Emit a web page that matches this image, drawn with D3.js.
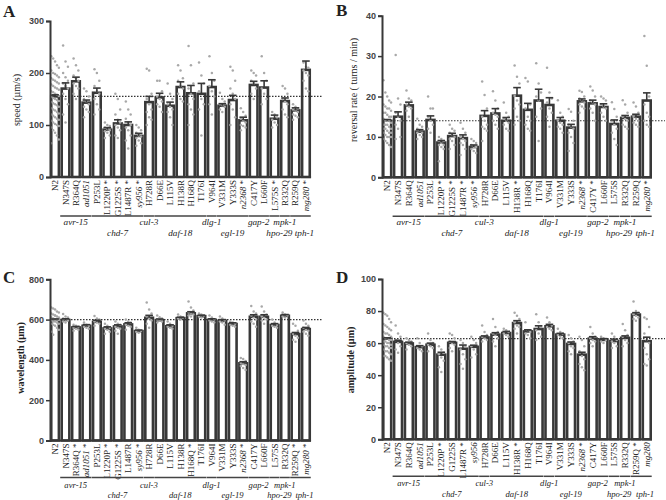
<!DOCTYPE html>
<html><head><meta charset="utf-8">
<script src="https://cdn.jsdelivr.net/npm/d3@7"></script>
<style>body{margin:0;background:#fff}</style>
</head><body><svg id="chart" width="666" height="500"></svg>
<script>
const categories = ["N2","N347S","R364Q","ad1051","P253L","L1220P","G1225S","L1487R","sy956","H728R","D66E","L115V","H138R","H168Q","T176I","V964I","V331M","Y333S","n2368","C417Y","L660F","L575S","R332Q","R259Q","mg280"];
const italicCategories = ["ad1051","sy956","n2368","mg280"];
const genes = ["avr-15","chd-7","cul-3","daf-18","dlg-1","egl-19","gap-2","hpo-29","mpk-1","tph-1"];
const geneFirst = ["N347S","P253L","H728R","D66E","V964I","V331M","C417Y","L575S","R332Q","R259Q"];
const geneLast  = ["ad1051","sy956","H728R","T176I","V964I","n2368","L660F","L575S","R332Q","mg280"];

// Panel A: speed
const speedTicks = [0,100,200,300];
const speedMean = [155,170,184,143,162,91,103,100,79,144,153,137,173,161,160,173,137,148,109,177,172,112,146,128,206];
const speedSem  = [3,11,8,5,9,4,7,6,5,11,8,7,10,15,20,14,4,9,6,7,13,7,6,5,17];
const speedStars = ["L1220P","G1225S","L1487R","sy956","n2368","L575S","mg280"];
const speedPoints = [
 [232,228,222,215,210,205,200,198,195,192,190,187,185,182,180,178,175,172,170,168,165,163,160,158,156,154,152,150,148,146,144,142,140,138,135,132,130,128,125,122,120,118,115,112,110,108,105,102,100,98,95,90,85,80,72,65],
 [253,222,212,200,192,185,180,175,170,160,150,140,120,105],
 [228,215,205,195,190,185,180,175,170,160,150],
 [170,165,155,150,145,140,135,130,125,115],
 [207,200,185,175,165,160,150,140,130,120],
 [105,100,98,95,92,90,88,85,80,75],
 [160,150,130,120,110,105,100,95,90,80,75],
 [145,130,120,112,105,100,95,90,80,70,55],
 [100,95,90,85,80,78,75,70,65,60],
 [208,205,160,150,140,130,125,115,110,100],
 [185,185,165,155,150,145,140,135,125],
 [180,160,150,140,135,130,125,115,100],
 [215,205,190,185,175,170,160,150,145],
 [252,215,180,170,160,150,140,130,120,100],
 [220,195,180,165,150,140,130,80],
 [232,200,185,175,165,155,140,120],
 [162,150,145,140,138,135,130,125],
 [212,205,185,170,160,150,140,130,115,100],
 [132,125,118,112,108,105,100,98,95,90],
 [205,200,195,185,180,170,160,150],
 [232,200,185,170,160,150,140],
 [125,120,115,110,105,100,95],
 [175,170,160,150,145,140,130,120,115],
 [140,135,132,130,128,125,120,118,115,110],
 [220,212,210,205,200,195,185,170,165]
];

// Panel B: reversal rate
const revTicks = [0,10,20,30,40];
const revMean = [14.0,15.0,17.8,11.3,14.2,8.6,10.2,9.7,7.5,15.2,15.8,14.0,20.2,16.7,19.0,17.9,14.0,12.3,18.8,18.3,17.4,13.2,14.7,15.0,19.0];
const revSem  = [0.3,1.2,0.8,0.5,1.0,0.5,0.7,0.8,0.5,1.3,1.2,0.8,2.0,1.6,2.8,1.8,0.8,0.8,0.6,0.8,0.8,1.0,0.6,0.6,1.9];
const revStars = ["L1220P","G1225S","L1487R","sy956","H138R","n2368","C417Y","mg280"];
const revPoints = [
 [24,21,20,19,18.5,18,17.5,17,17,16.5,16,16,15.5,15,15,14.5,14,14,14,13.5,13,13,13,12.5,12,12,12,11.5,11,11,11,10.5,10,10,10,9.5,9,8.5,8,7.5],
 [30.3,19.5,18,16,15,14,13,12,10,9.5],
 [21.5,19.5,19,18,17.5,17,16.5,15],
 [14.5,13,12.5,12,11.5,11,11,10.5,10,9.5],
 [20,17,17,15,14,13,12,11],
 [10,9.5,9,9,8.5,8,8,7.5,7,4],
 [13,12,11.5,11,10.5,10,9.5,9,8,7],
 [13.5,12,11,10,9.5,9,8.5,8,7,5.5],
 [9.5,9,8.5,8,7.5,7.5,7,6.5,6],
 [23.7,20.4,17,15,14,13,12.5,12,11.5,9],
 [21.3,19,17,16,15.5,15,14,13,12],
 [18.5,16,15,14.5,14,13.5,13,12,11.5],
 [27.7,24.9,23.2,20.1,19,18,17,15,14,13],
 [24.6,23.7,18,17,15,14,13,12,11.5],
 [28.2,23.2,21,20,19,17,15,9],
 [27.1,21,19.5,18.5,17,16,15,12.5],
 [19.1,16,15,14,13.5,13,12.5,12,11],
 [16.9,16.2,14,13,12.5,12,11,10,8.5,6.5],
 [21.4,21.1,20,19.5,19,18.5,18,17.5,17,16],
 [22.5,21.5,20,19,18.5,18,17,16,14],
 [20,19.5,19,18,17.5,17,16,15,14],
 [18.6,16.9,15,14,13,12,11,9.5,8],
 [19.1,18,16,15,14.5,14,13,12.5,12],
 [18.5,17.5,16,15,14.5,14,13.5,13,12.5],
 [35,27.6,20,18,16,15,14,13,12.5]
];

// Panel C: wavelength
const waveTicks = [0,200,400,600,800];
const waveMean = [600,598,561,569,589,556,566,576,543,609,597,567,607,631,617,599,594,578,383,614,614,573,619,528,553];
const waveSem  = [3,6,5,6,8,8,8,8,5,12,6,7,5,8,5,5,6,6,8,10,10,7,6,8,8];
const waveStars = ["R364Q","ad1051","L1220P","G1225S","sy956","H168Q","n2368","R259Q","mg280"];
const wavePoints = [
 [660,655,650,640,635,630,625,620,615,610,610,605,600,600,598,595,590,590,585,580,580,575,570,560,550,540,525,620],
 [628,615,610,605,600,595,590,585],
 [575,570,565,560,555,550,545],
 [585,575,570,565,560,555],
 [618,605,600,590,585,580,570],
 [580,570,560,555,550,540,530],
 [590,580,575,565,560,555,545,530],
 [600,590,585,575,570,565,550],
 [560,550,545,540,535],
 [685,650,630,615,605,595,580,560],
 [620,612,605,600,595,590,585],
 [590,580,570,565,560,555],
 [625,615,610,605,600],
 [690,660,645,635,630,625,620,615],
 [630,625,620,615,610],
 [620,610,600,595,590,585],
 [615,605,595,590,585,575],
 [590,585,580,575,570,565],
 [410,405,395,385,380,375,370,360,350],
 [668,640,630,620,610,600,590,580,565],
 [665,640,625,615,610,600,595,580],
 [600,585,575,570,565,560],
 [635,625,620,615,610],
 [580,570,545,530,520,510,500,490],
 [595,580,570,560,550,545,540,530,520]
];

// Panel D: amplitude
const ampTicks = [0,20,40,60,80,100];
const ampMean = [62.8,60.8,59.8,57.5,59.0,52.8,60.2,56.5,57.7,63.5,65.3,66.3,72.5,67.3,68.8,70.5,65.3,59.5,52.8,62.8,62.0,61.3,63.3,77.8,61.2];
const ampSem  = [0.5,1.0,0.8,0.9,1.0,1.5,0.8,2.3,1.0,1.0,1.2,1.0,1.5,1.0,2.0,1.2,0.8,1.2,1.5,1.2,0.8,1.2,1.2,1.2,2.5];
const ampStars = ["L1220P","L1487R","H138R","n2368","R259Q"];
const ampPoints = [
 [79,78,77,75,73,72,71,70,69,68,67,66,66,65,64,64,63,63,62,62,61,61,60,60,59,59,58,58,57,57,56,55,55,54,53,52,52,51,50,49],
 [71,66,64,62,60,58,56,54],
 [63,62,61,60,59,58,56],
 [63,60,58,57,56,55],
 [66,62,60,59,58,57,55],
 [58,56,54,53,51,49,45,42],
 [66,65,63,61,60,59,57,55],
 [62,60,58,56,53,50,47,44],
 [64,62,60,58,56,53,51],
 [71,67,65,64,63,62,61],
 [75,70,67,66,65,63,61,58],
 [69,68,67,66,65,64],
 [79,77,75,73,71,70,69,66],
 [73,68,67,66,65,63],
 [78,73,70,68,66,64,62],
 [76,73,71,70,69,68],
 [69,67,66,65,64,63],
 [65,63,61,60,58,57,55,53],
 [64,62,58,55,52,50,47,45,43],
 [70,66,64,63,62,61,60,58],
 [64,63,62,61,60],
 [66,64,62,61,60,58,57],
 [72,68,65,64,62,60,58],
 [86,80,79,78,77,76,75,74],
 [76,75,70,66,62,60,57,53,50,47,46]
];

const panels = [
 {letter:"A", title:"speed (µm/s)", bold:false, ticks:speedTicks, mean:speedMean, sem:speedSem, pts:speedPoints, stars:speedStars,
  x0:50, x1:311, yTop:21, yBot:177, dotEnd:322, tx:18, ty:100, lx:3, ly:17, lineOff:39, row1:48, row2:59, gfs:9.2},
 {letter:"B", title:"reversal rate ( turns / min)", bold:false, ticks:revTicks, mean:revMean, sem:revSem, pts:revPoints, stars:revStars,
  x0:382, x1:652, yTop:15.7, yBot:177.3, dotEnd:665, tx:355, ty:90, lx:336, ly:16, lineOff:39, row1:48, row2:59, gfs:9.2},
 {letter:"C", title:"wavelength (µm)", bold:true, ticks:waveTicks, mean:waveMean, sem:waveSem, pts:wavePoints, stars:waveStars,
  x0:50, x1:311, yTop:279.3, yBot:440.5, dotEnd:323, tx:22, ty:358, lx:3, ly:283, lineOff:37, row1:47, row2:57.5, gfs:8.6},
 {letter:"D", title:"amplitude (µm)", bold:true, ticks:ampTicks, mean:ampMean, sem:ampSem, pts:ampPoints, stars:ampStars,
  x0:382, x1:652, yTop:279, yBot:439.3, dotEnd:665, tx:352, ty:360, lx:336, ly:283, lineOff:37, row1:47, row2:57.5, gfs:8.6}
];

const svg = d3.select("#chart");
const dark = "#383838";
const serif = "'Liberation Serif','Times New Roman',serif";
const sans = "'Liberation Sans',Arial,sans-serif";
const labelShift = {"hpo-29": 5, "tph-1": 4};

panels.forEach(p => {
  const g = svg.append("g");
  const x = d3.scaleBand().domain(categories).range([p.x0, p.x1]).paddingInner(0.27).paddingOuter(0.12);
  const y = d3.scaleLinear().domain([0, d3.max(p.ticks)]).range([p.yBot, p.yTop]);
  const bw = x.bandwidth();

  // bars
  g.selectAll("rect.bar").data(categories).join("rect")
    .attr("x", c => x(c)).attr("width", bw)
    .attr("y", (c,i) => y(p.mean[i])).attr("height", (c,i) => y(0) - y(p.mean[i]))
    .attr("fill", "#fff").attr("stroke", dark).attr("stroke-width", 2.6);

  // dotted reference line at N2 mean
  g.append("line").attr("x1", p.x0).attr("x2", p.dotEnd)
    .attr("y1", y(p.mean[0])).attr("y2", y(p.mean[0]))
    .attr("stroke", "#333").attr("stroke-width", 1.1).attr("stroke-dasharray", "1.5,1.5");

  // individual points
  categories.forEach((c, i) => {
    const vals = p.pts[i];
    const k = i === 0 ? 5 : 3;
    const step = i === 0 ? 1.9 : 2.4;
    g.selectAll(null).data(vals).join("circle")
      .attr("cx", (v, j) => x(c) + bw/2 + ((j % k) - (k-1)/2) * step)
      .attr("cy", v => y(v)).attr("r", 1.25)
      .attr("fill", "#a8a8a8");
  });

  // error bars
  categories.forEach((c, i) => {
    const cx = x(c) + bw/2;
    const top = y(p.mean[i] + p.sem[i]);
    g.append("line").attr("x1", cx).attr("x2", cx).attr("y1", y(p.mean[i])).attr("y2", top)
      .attr("stroke", dark).attr("stroke-width", 1.6);
    g.append("line").attr("x1", cx - 3.8).attr("x2", cx + 3.8).attr("y1", top).attr("y2", top)
      .attr("stroke", dark).attr("stroke-width", 1.6);
  });

  // axes
  const ax = g.append("g").attr("transform", `translate(${p.x0},0)`)
    .call(d3.axisLeft(y).tickValues(p.ticks).tickSize(4).tickPadding(2).tickFormat(d3.format("d")));
  ax.select(".domain").attr("stroke", dark).attr("stroke-width", 2);
  ax.selectAll(".tick line").attr("stroke", dark).attr("stroke-width", 1.5);
  ax.selectAll(".tick text").attr("font-family", sans).attr("font-weight", "bold").attr("font-size", 9).attr("fill", "#444");
  g.append("line").attr("x1", p.x0).attr("x2", x(categories[categories.length-1]) + bw + 1.3)
    .attr("y1", y(0)).attr("y2", y(0)).attr("stroke", dark).attr("stroke-width", 2);

  // category labels
  categories.forEach(c => {
    const t = g.append("text")
      .attr("transform", `translate(${x(c) + bw/2 + 3},${y(0) + 3}) rotate(-90)`)
      .attr("text-anchor", "end").attr("font-family", serif).attr("font-size", 9).attr("fill", "#222");
    t.append("tspan").text(c).attr("font-style", italicCategories.includes(c) ? "italic" : "normal");
    if (p.stars.includes(c)) t.append("tspan").text(" *");
  });

  // gene group lines and labels
  genes.forEach((gn, gi) => {
    const a = x(geneFirst[gi]) - 1.5, b = x(geneLast[gi]) + bw + 1;
    const ly = y(0) + p.lineOff;
    g.append("line").attr("x1", a).attr("x2", b).attr("y1", ly).attr("y2", ly)
      .attr("stroke", "#444").attr("stroke-width", 1.5);
    g.append("text").attr("x", (a + b) / 2 + (labelShift[gn] || 0)).attr("y", y(0) + (gi % 2 === 0 ? p.row1 : p.row2))
      .attr("text-anchor", "middle").attr("font-family", serif).attr("font-style", "italic")
      .attr("font-size", p.gfs).attr("fill", "#222").text(gn);
  });

  // y title
  g.append("text").attr("transform", `translate(${p.tx},${p.ty}) rotate(-90)`)
    .attr("text-anchor", "middle").attr("dominant-baseline", "middle")
    .attr("font-family", serif).attr("font-weight", p.bold ? "bold" : "normal")
    .attr("font-size", 10).attr("fill", "#222").text(p.title);

  // panel letter
  g.append("text").attr("x", p.lx).attr("y", p.ly).attr("font-family", serif)
    .attr("font-weight", "bold").attr("font-size", 17).attr("fill", "#222").text(p.letter);
});
</script>
</body></html>
